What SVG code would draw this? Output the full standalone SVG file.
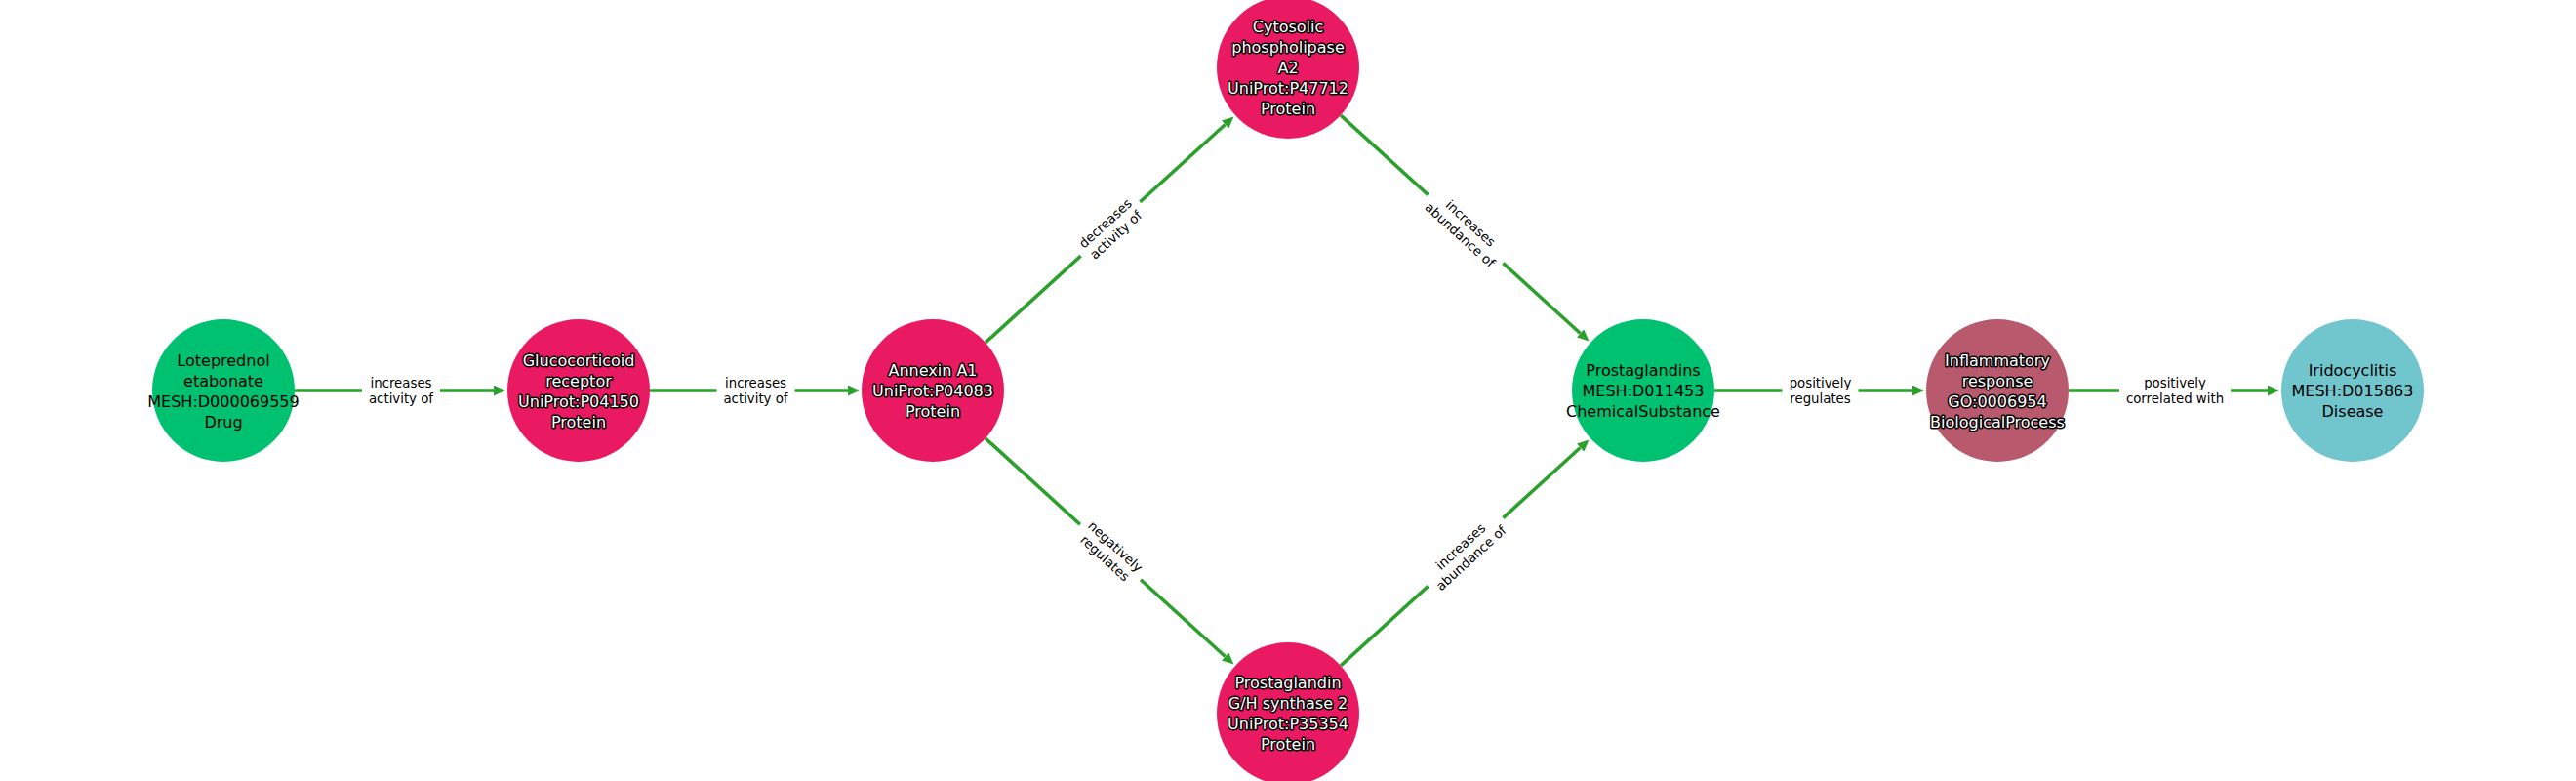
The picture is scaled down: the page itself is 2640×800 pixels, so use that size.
<svg xmlns="http://www.w3.org/2000/svg" width="2640" height="800" viewBox="0 0 2640 800">
<style>
.bg{fill:#ffffff}
.edge{stroke:#2ca02c;stroke-width:3.6;fill:none}
.lbox{fill:#ffffff;stroke:none}
.elab{font-family:"DejaVu Sans",sans-serif;font-size:13.3px;fill:#000000;text-anchor:middle;dominant-baseline:central}
.nlab{font-family:"DejaVu Sans",sans-serif;font-size:16px;text-anchor:middle;dominant-baseline:central}
.dark{fill:#000000}
.light{fill:#ffffff;stroke:#000000;stroke-width:3;stroke-linejoin:round;paint-order:stroke}
.drug{fill:#00c170}
.protein{fill:#e91a62}
.process{fill:#b8596d}
.disease{fill:#71c5cc}
</style>
<defs>
<marker id="arrow" markerUnits="userSpaceOnUse" markerWidth="12" markerHeight="11" refX="0" refY="5.5" orient="auto">
<path d="M0,0 L12,5.5 L0,11 z" fill="#2ca02c"/>
</marker>
</defs>
<rect class="bg" x="0" y="0" width="2640" height="800"/>
<g id="connectors">
<line class="edge" x1="302" y1="400" x2="506" y2="400" marker-end="url(#arrow)"/>
<line class="edge" x1="666" y1="400" x2="869" y2="400" marker-end="url(#arrow)"/>
<line class="edge" x1="1010" y1="350.9" x2="1255.6" y2="127.5" marker-end="url(#arrow)"/>
<line class="edge" x1="1010" y1="449.1" x2="1255.6" y2="672.5" marker-end="url(#arrow)"/>
<line class="edge" x1="1374" y1="118.1" x2="1619.6" y2="341.5" marker-end="url(#arrow)"/>
<line class="edge" x1="1374" y1="681.9" x2="1619.6" y2="458.5" marker-end="url(#arrow)"/>
<line class="edge" x1="1757" y1="400" x2="1960" y2="400" marker-end="url(#arrow)"/>
<line class="edge" x1="2120" y1="400" x2="2324" y2="400" marker-end="url(#arrow)"/>
<g transform="translate(411,400)"><rect class="lbox" x="-40" y="-19" width="80" height="38" rx="4"/><text class="elab"><tspan x="0" y="-8">increases</tspan><tspan x="0" y="8">activity of</tspan></text></g>
<g transform="translate(774.5,400)"><rect class="lbox" x="-40" y="-19" width="80" height="38" rx="4"/><text class="elab"><tspan x="0" y="-8">increases</tspan><tspan x="0" y="8">activity of</tspan></text></g>
<g transform="translate(1138,234.5) rotate(-42.3)"><rect class="lbox" x="-41" y="-19" width="82" height="38" rx="4"/><text class="elab"><tspan x="0" y="-8">decreases</tspan><tspan x="0" y="8">activity of</tspan></text></g>
<g transform="translate(1138,565.5) rotate(42.3)"><rect class="lbox" x="-42" y="-19" width="84" height="38" rx="4"/><text class="elab"><tspan x="0" y="-8">negatively</tspan><tspan x="0" y="8">regulates</tspan></text></g>
<g transform="translate(1502,234.5) rotate(42.3)"><rect class="lbox" x="-52" y="-19" width="104" height="38" rx="4"/><text class="elab"><tspan x="0" y="-8">increases</tspan><tspan x="0" y="8">abundance of</tspan></text></g>
<g transform="translate(1502,565.5) rotate(-42.3)"><rect class="lbox" x="-52" y="-19" width="104" height="38" rx="4"/><text class="elab"><tspan x="0" y="-8">increases</tspan><tspan x="0" y="8">abundance of</tspan></text></g>
<g transform="translate(1865.5,400)"><rect class="lbox" x="-39" y="-19" width="78" height="38" rx="4"/><text class="elab"><tspan x="0" y="-8">positively</tspan><tspan x="0" y="8">regulates</tspan></text></g>
<g transform="translate(2229,400)"><rect class="lbox" x="-57" y="-19" width="114" height="38" rx="4"/><text class="elab"><tspan x="0" y="-8">positively</tspan><tspan x="0" y="8">correlated with</tspan></text></g>
</g>
<g id="node-loteprednol">
<circle class="drug" cx="229" cy="400" r="73"/>
<text class="nlab dark"><tspan x="229" y="369">Loteprednol</tspan><tspan x="229" y="390">etabonate</tspan><tspan x="229" y="411">MESH:D000069559</tspan><tspan x="229" y="432">Drug</tspan></text>
</g>
<g id="node-glucocorticoid">
<circle class="protein" cx="593" cy="400" r="73"/>
<text class="nlab light"><tspan x="593" y="369">Glucocorticoid</tspan><tspan x="593" y="390">receptor</tspan><tspan x="593" y="411">UniProt:P04150</tspan><tspan x="593" y="432">Protein</tspan></text>
</g>
<g id="node-annexin">
<circle class="protein" cx="956" cy="400" r="73"/>
<text class="nlab light"><tspan x="956" y="379">Annexin A1</tspan><tspan x="956" y="400">UniProt:P04083</tspan><tspan x="956" y="421">Protein</tspan></text>
</g>
<g id="node-cytosolic">
<circle class="protein" cx="1320" cy="69" r="73"/>
<text class="nlab light"><tspan x="1320" y="27">Cytosolic</tspan><tspan x="1320" y="48">phospholipase</tspan><tspan x="1320" y="69">A2</tspan><tspan x="1320" y="90">UniProt:P47712</tspan><tspan x="1320" y="111">Protein</tspan></text>
</g>
<g id="node-pghs2">
<circle class="protein" cx="1320" cy="731" r="73"/>
<text class="nlab light"><tspan x="1320" y="699">Prostaglandin</tspan><tspan x="1320" y="720">G/H synthase 2</tspan><tspan x="1320" y="741">UniProt:P35354</tspan><tspan x="1320" y="762">Protein</tspan></text>
</g>
<g id="node-prostaglandins">
<circle class="drug" cx="1684" cy="400" r="73"/>
<text class="nlab dark"><tspan x="1684" y="379">Prostaglandins</tspan><tspan x="1684" y="400">MESH:D011453</tspan><tspan x="1684" y="421">ChemicalSubstance</tspan></text>
</g>
<g id="node-inflammatory">
<circle class="process" cx="2047" cy="400" r="73"/>
<text class="nlab light"><tspan x="2047" y="369">Inflammatory</tspan><tspan x="2047" y="390">response</tspan><tspan x="2047" y="411">GO:0006954</tspan><tspan x="2047" y="432">BiologicalProcess</tspan></text>
</g>
<g id="node-iridocyclitis">
<circle class="disease" cx="2411" cy="400" r="73"/>
<text class="nlab dark"><tspan x="2411" y="379">Iridocyclitis</tspan><tspan x="2411" y="400">MESH:D015863</tspan><tspan x="2411" y="421">Disease</tspan></text>
</g>
</svg>
